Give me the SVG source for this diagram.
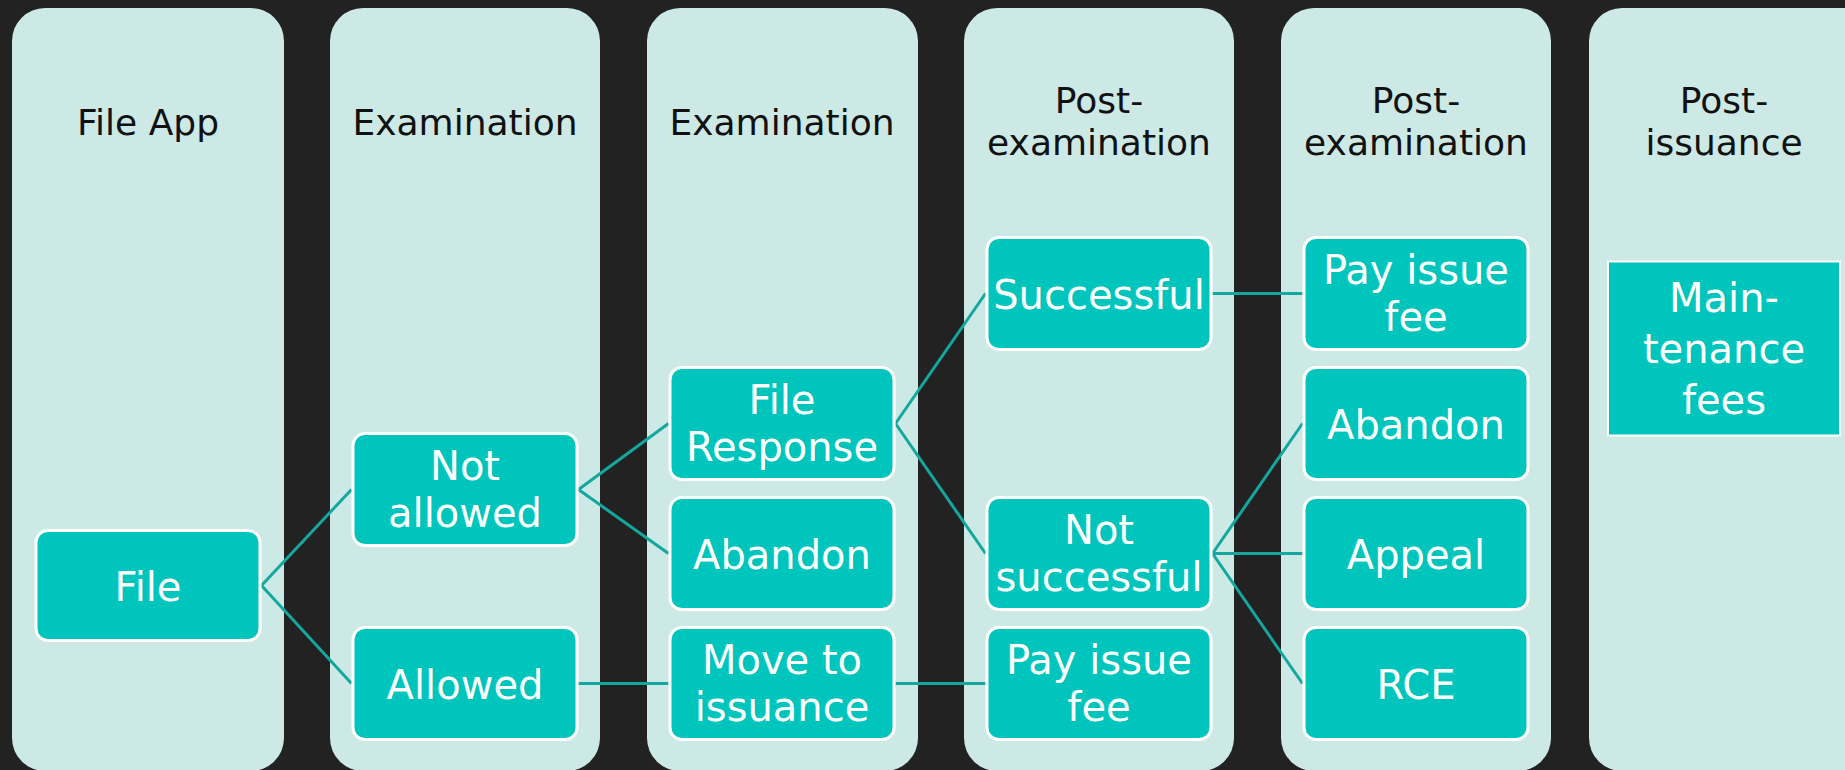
<svg xmlns="http://www.w3.org/2000/svg" width="1845" height="770" viewBox="0 0 1845 770">
  <style>
    .lane { fill: #cce9e6; }
    .head { font-family: "DejaVu Sans", "Liberation Sans", sans-serif; font-size: 36px; fill: #111111; text-anchor: middle; }
    .box { fill: #00c5bc; stroke: #ffffff; stroke-width: 3; }
    .box-sq { fill: #00c5bc; stroke: #ffffff; stroke-width: 2; }
    .label { font-family: "DejaVu Sans", "Liberation Sans", sans-serif; font-size: 40px; fill: #ffffff; text-anchor: middle; }
    .link { stroke: #14a79e; stroke-width: 3; fill: none; }
  </style>

  <!-- backdrop -->
  <rect x="0" y="0" width="1845" height="770" fill="#222222"/>

  <!-- stage lanes with their headings -->
  <g id="lane-file-app">
    <rect class="lane" x="12" y="8" width="272" height="763" rx="33"/>
    <text class="head" x="148" y="135">File App</text>
  </g>
  <g id="lane-examination-1">
    <rect class="lane" x="330" y="8" width="270" height="763" rx="33"/>
    <text class="head" x="465" y="135">Examination</text>
  </g>
  <g id="lane-examination-2">
    <rect class="lane" x="647" y="8" width="271" height="763" rx="33"/>
    <text class="head" x="782" y="135">Examination</text>
  </g>
  <g id="lane-post-exam-1">
    <rect class="lane" x="964" y="8" width="270" height="763" rx="33"/>
    <text class="head" x="1099" y="113">Post-</text>
    <text class="head" x="1099" y="155">examination</text>
  </g>
  <g id="lane-post-exam-2">
    <rect class="lane" x="1281" y="8" width="270" height="763" rx="33"/>
    <text class="head" x="1416" y="113">Post-</text>
    <text class="head" x="1416" y="155">examination</text>
  </g>
  <g id="lane-post-issuance">
    <rect class="lane" x="1589" y="8" width="300" height="763" rx="33"/>
    <text class="head" x="1724" y="113">Post-</text>
    <text class="head" x="1724" y="155">issuance</text>
  </g>

  <!-- connectors -->
  <g id="connectors">
    <line class="link" x1="261.5" y1="585.5" x2="351.5" y2="489.5"/>
    <line class="link" x1="261.5" y1="585.5" x2="351.5" y2="683.5"/>
    <line class="link" x1="578.5" y1="489.5" x2="668.5" y2="423.5"/>
    <line class="link" x1="578.5" y1="489.5" x2="668.5" y2="553.5"/>
    <line class="link" x1="578.5" y1="683.5" x2="668.5" y2="683.5"/>
    <line class="link" x1="895.5" y1="423.5" x2="985.5" y2="293.5"/>
    <line class="link" x1="895.5" y1="423.5" x2="985.5" y2="553.5"/>
    <line class="link" x1="895.5" y1="683.5" x2="985.5" y2="683.5"/>
    <line class="link" x1="1212.5" y1="293.5" x2="1302.5" y2="293.5"/>
    <line class="link" x1="1212.5" y1="553.5" x2="1302.5" y2="423.5"/>
    <line class="link" x1="1212.5" y1="553.5" x2="1302.5" y2="553.5"/>
    <line class="link" x1="1212.5" y1="553.5" x2="1302.5" y2="683.5"/>
  </g>

  <!-- nodes -->
  <g id="node-file">
    <rect class="box" x="36" y="530.5" width="224" height="110" rx="12"/>
    <text class="label" x="148" y="600.5">File</text>
  </g>
  <g id="node-not-allowed">
    <rect class="box" x="353" y="433.5" width="224" height="112" rx="12"/>
    <text class="label" x="465" y="480">Not</text>
    <text class="label" x="465" y="526.5">allowed</text>
  </g>
  <g id="node-allowed">
    <rect class="box" x="353" y="627.5" width="224" height="112" rx="12"/>
    <text class="label" x="465" y="698.5">Allowed</text>
  </g>
  <g id="node-file-response">
    <rect class="box" x="670" y="367.5" width="224" height="112" rx="12"/>
    <text class="label" x="782" y="414">File</text>
    <text class="label" x="782" y="460.5">Response</text>
  </g>
  <g id="node-abandon-exam">
    <rect class="box" x="670" y="497.5" width="224" height="112" rx="12"/>
    <text class="label" x="782" y="568.5">Abandon</text>
  </g>
  <g id="node-move-to-issuance">
    <rect class="box" x="670" y="627.5" width="224" height="112" rx="12"/>
    <text class="label" x="782" y="674">Move to</text>
    <text class="label" x="782" y="720.5">issuance</text>
  </g>
  <g id="node-successful">
    <rect class="box" x="987" y="237.5" width="224" height="112" rx="12"/>
    <text class="label" x="1099" y="308.5">Successful</text>
  </g>
  <g id="node-not-successful">
    <rect class="box" x="987" y="497.5" width="224" height="112" rx="12"/>
    <text class="label" x="1099" y="544">Not</text>
    <text class="label" x="1099" y="590.5">successful</text>
  </g>
  <g id="node-pay-issue-fee-a">
    <rect class="box" x="987" y="627.5" width="224" height="112" rx="12"/>
    <text class="label" x="1099" y="674">Pay issue</text>
    <text class="label" x="1099" y="720.5">fee</text>
  </g>
  <g id="node-pay-issue-fee-b">
    <rect class="box" x="1304" y="237.5" width="224" height="112" rx="12"/>
    <text class="label" x="1416" y="284">Pay issue</text>
    <text class="label" x="1416" y="330.5">fee</text>
  </g>
  <g id="node-abandon-post">
    <rect class="box" x="1304" y="367.5" width="224" height="112" rx="12"/>
    <text class="label" x="1416" y="438.5">Abandon</text>
  </g>
  <g id="node-appeal">
    <rect class="box" x="1304" y="497.5" width="224" height="112" rx="12"/>
    <text class="label" x="1416" y="568.5">Appeal</text>
  </g>
  <g id="node-rce">
    <rect class="box" x="1304" y="627.5" width="224" height="112" rx="12"/>
    <text class="label" x="1416" y="698.5">RCE</text>
  </g>
  <g id="node-maintenance-fees">
    <rect class="box-sq" x="1608" y="261.5" width="232" height="174"/>
    <text class="label" x="1724" y="312">Main-</text>
    <text class="label" x="1724" y="363">tenance</text>
    <text class="label" x="1724" y="414">fees</text>
  </g>
</svg>
